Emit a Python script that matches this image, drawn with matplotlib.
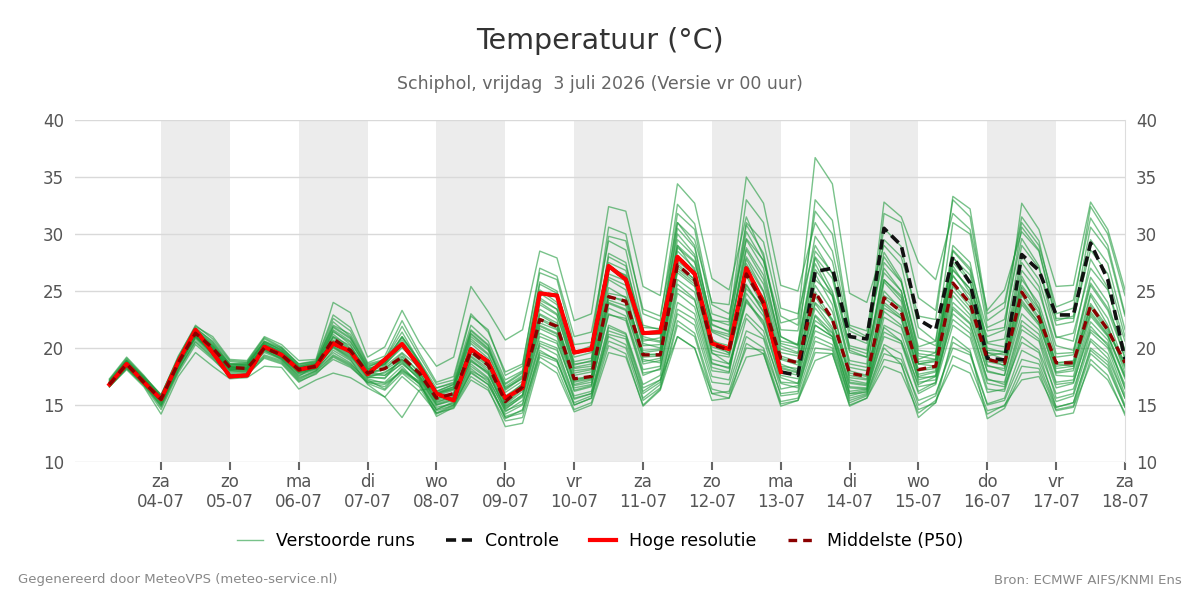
import numpy as np
import pandas as pd
import matplotlib
matplotlib.use('Agg')
import matplotlib.pyplot as plt
from matplotlib.lines import Line2D

plt.rcParams['font.family'] = ['DejaVu Sans']

# 6-hourly forecast times, run of vr 03-07-2026 00 uur
times = pd.date_range('2026-07-03 06:00', periods=60, freq='6h')
days = pd.date_range('2026-07-04', '2026-07-18', freq='D')
day_names = ['ma', 'di', 'wo', 'do', 'vr', 'za', 'zo']

# Hoge resolutie (HRES) - stops after 10 days
hres = [16.8, 18.6, 17.0, 15.5, 18.8, 21.6, 19.6, 17.5, 17.6, 20.1, 19.4, 18.1,
        18.4, 20.4, 19.7, 17.7, 19.0, 20.35, 18.4, 16.0, 15.4, 19.9, 18.8, 15.6,
        16.5, 24.8, 24.6, 19.6, 19.9, 27.2, 26.0, 21.3, 21.4, 28.0, 26.5, 20.4,
        19.9, 27.0, 24.0, 17.9]

# Controle run (hidden under HRES for the first 10 days)
control = hres + [17.6, 26.7, 27.0, 21.0, 20.8, 30.5, 29.0, 22.5, 21.6, 28.0,
                  25.7, 19.1, 18.95, 28.2, 26.8, 22.9, 22.9, 29.2, 26.0, 19.0]

# Middelste (P50)
p50 = [16.8, 18.6, 17.0, 15.5, 18.7, 21.3, 20.0, 18.3, 18.2, 20.0, 19.4, 18.1,
       18.4, 20.8, 19.8, 17.8, 18.2, 19.2, 17.8, 15.6, 16.0, 19.7, 18.5, 15.3,
       16.6, 22.5, 21.9, 17.3, 17.5, 24.5, 24.1, 19.4, 19.4, 27.3, 26.0, 20.3,
       19.8, 26.5, 23.9, 19.1, 18.7, 24.9, 22.5, 17.8, 17.5, 24.4, 23.2, 18.1,
       18.4, 25.7, 23.9, 19.0, 18.65, 24.9, 22.7, 18.7, 18.7, 23.7, 21.6, 18.7]

# Verstoorde runs (ensemble members)
members = [
    [16.9, 18.7, 17.2, 15.3, 18.5, 21.0, 19.6, 18.0, 18.3, 20.2, 19.5, 17.8, 18.2,
     21.5, 20.3, 17.6, 18.8, 20.5, 18.0, 15.2, 15.8, 20.4, 19.1, 15.0, 16.2,
     23.4, 22.5, 16.8, 17.2, 26.0, 25.1, 19.0, 18.7, 28.5, 27.0, 20.8, 19.5,
     27.8, 25.0, 18.6, 18.0, 26.5, 23.8, 17.2, 16.9, 25.8, 24.1, 17.5, 17.9,
     27.2, 24.8, 18.5, 18.0, 26.3, 23.5, 17.9, 18.2, 24.6, 22.0, 17.8],
    [16.7, 18.4, 16.9, 15.6, 18.9, 21.5, 20.1, 18.4, 18.1, 19.7, 19.1, 17.5, 18.5,
     20.1, 19.2, 17.9, 17.6, 18.6, 17.4, 15.0, 15.5, 18.8, 17.9, 14.6, 15.8,
     21.0, 20.4, 16.5, 16.8, 22.9, 22.6, 17.8, 18.1, 25.6, 24.3, 18.7, 18.2,
     24.2, 22.0, 17.4, 16.9, 22.4, 21.3, 16.5, 16.4, 21.8, 20.6, 16.2, 17.0,
     23.4, 22.1, 17.3, 16.8, 22.0, 20.8, 16.5, 16.9, 21.9, 20.2, 16.8],
    [17.0, 18.9, 17.4, 15.8, 19.0, 21.8, 20.5, 18.6, 18.5, 20.6, 19.8, 18.3, 18.6,
     22.3, 21.0, 18.3, 19.0, 21.4, 18.8, 16.2, 16.8, 21.5, 20.2, 16.3, 17.4,
     25.1, 24.0, 18.5, 18.9, 28.3, 27.5, 21.0, 20.6, 30.5, 28.8, 22.1, 21.4,
     30.8, 28.3, 21.0, 20.2, 33.0, 31.2, 22.0, 21.5, 30.5, 28.9, 21.8, 20.6,
     28.0, 25.9, 19.6, 19.0, 25.3, 23.1, 18.6, 18.4, 23.0, 21.1, 17.5],
    [16.6, 18.2, 16.7, 14.6, 17.8, 20.3, 19.0, 17.6, 17.7, 19.1, 18.6, 17.0, 17.8,
     19.0, 18.3, 17.0, 16.8, 17.9, 16.9, 14.3, 15.0, 18.0, 17.2, 13.8, 14.6,
     19.6, 19.0, 15.2, 15.8, 21.0, 20.3, 16.0, 17.0, 23.0, 22.0, 17.0, 16.8,
     21.5, 20.8, 15.8, 16.0, 20.6, 20.0, 15.6, 16.0, 20.3, 19.5, 15.0, 15.8,
     20.5, 19.6, 15.1, 15.6, 19.8, 19.0, 15.3, 15.8, 20.6, 19.1, 15.6],
    [17.2, 19.0, 17.5, 15.9, 19.2, 22.0, 20.8, 18.9, 18.8, 20.9, 20.1, 18.6, 18.9,
     22.9, 21.8, 18.7, 19.3, 22.4, 19.6, 17.0, 17.5, 23.0, 21.4, 17.9, 18.6,
     26.6, 26.0, 20.3, 20.5, 30.6, 30.0, 23.0, 22.4, 32.6, 30.9, 23.8, 23.0,
     29.5, 27.0, 20.2, 19.6, 27.4, 24.5, 18.3, 18.0, 27.5, 25.8, 20.1, 20.6,
     31.0, 30.0, 21.8, 22.5, 29.6, 27.2, 21.0, 20.6, 27.8, 25.3, 19.6],
    [16.8, 18.6, 17.0, 15.4, 18.6, 21.2, 19.8, 18.2, 18.2, 20.0, 19.3, 18.0, 18.4,
     20.6, 19.6, 17.7, 18.1, 19.0, 17.6, 15.5, 16.1, 19.5, 18.4, 15.2, 16.5,
     22.2, 21.6, 17.1, 17.4, 24.2, 23.7, 19.2, 19.3, 27.0, 25.8, 20.1, 19.6,
     26.3, 23.6, 19.0, 18.5, 24.5, 22.3, 17.6, 17.3, 24.0, 22.8, 18.0, 18.2,
     25.4, 23.6, 18.8, 18.5, 24.6, 22.5, 18.4, 18.6, 23.5, 21.4, 18.5],
    [16.9, 18.5, 17.1, 15.2, 18.3, 21.4, 19.9, 18.1, 18.0, 20.3, 19.6, 17.9, 18.3,
     20.0, 19.0, 16.8, 15.7, 13.9, 16.3, 16.5, 16.9, 19.8, 18.6, 15.6, 16.9,
     23.0, 22.2, 17.8, 18.1, 25.3, 24.4, 19.8, 19.9, 28.0, 26.7, 21.4, 20.7,
     29.6, 27.7, 22.2, 22.6, 36.7, 34.4, 24.8, 24.0, 29.0, 27.3, 20.9, 20.2,
     26.3, 24.6, 19.3, 19.6, 26.8, 24.9, 20.2, 19.8, 25.7, 23.5, 19.9],
    [17.1, 18.8, 17.3, 15.5, 18.8, 21.6, 20.3, 18.5, 18.6, 20.5, 19.9, 18.4, 18.7,
     21.2, 20.0, 18.1, 18.6, 20.0, 18.6, 16.0, 16.4, 20.8, 19.5, 16.4, 17.5,
     24.4, 23.4, 18.3, 18.6, 27.0, 26.4, 20.6, 20.9, 31.0, 29.5, 24.0, 23.8,
     35.0, 32.7, 25.5, 25.0, 31.0, 28.5, 21.5, 20.8, 28.4, 26.0, 19.5, 19.3,
     27.9, 26.4, 20.4, 20.1, 28.1, 26.0, 20.9, 21.3, 27.0, 25.1, 20.6],
    [16.7, 18.3, 16.8, 14.9, 18.0, 20.8, 19.3, 17.8, 17.9, 19.4, 18.9, 17.3, 18.0,
     19.4, 18.6, 17.2, 16.4, 18.2, 17.0, 14.0, 14.8, 17.5, 16.5, 13.1, 13.4,
     18.8, 17.8, 14.4, 15.0, 19.6, 19.2, 15.0, 16.4, 22.0, 21.0, 16.0, 15.6,
     20.4, 19.5, 15.1, 15.4, 19.6, 19.5, 15.0, 15.6, 19.0, 18.6, 14.6, 15.2,
     19.3, 18.6, 14.5, 14.9, 18.4, 18.2, 14.6, 14.9, 19.5, 18.2, 14.8],
    [16.8, 18.7, 17.2, 15.7, 18.9, 21.1, 19.7, 18.3, 18.4, 20.1, 19.2, 18.1, 18.5,
     21.0, 19.9, 18.0, 18.4, 19.6, 18.3, 15.8, 16.3, 20.0, 18.9, 15.8, 16.8,
     22.9, 22.0, 17.6, 17.9, 24.8, 24.5, 19.6, 19.8, 27.6, 26.4, 20.6, 20.2,
     27.4, 24.9, 19.6, 19.3, 26.0, 24.6, 18.9, 18.6, 31.8, 31.0, 24.4, 23.3,
     33.0, 31.5, 22.4, 23.5, 31.5, 29.4, 23.0, 23.5, 32.4, 30.0, 24.6],
    [16.9, 18.6, 17.1, 15.6, 18.7, 21.3, 20.0, 18.3, 18.3, 20.1, 19.4, 18.2, 18.6,
     20.3, 19.4, 17.4, 17.9, 18.8, 17.2, 14.8, 15.1, 18.2, 17.0, 14.0, 14.5,
     19.8, 18.9, 15.0, 15.6, 21.5, 21.0, 16.2, 17.2, 24.0, 23.0, 18.0, 17.8,
     24.8, 22.8, 18.2, 17.8, 23.5, 21.6, 16.6, 16.5, 24.6, 23.6, 18.6, 18.4,
     26.4, 24.2, 19.2, 18.4, 24.0, 22.2, 17.6, 17.5, 22.8, 21.0, 17.3],
    [17.3, 19.2, 17.6, 15.8, 19.3, 21.9, 21.0, 19.0, 18.9, 21.0, 20.3, 18.9, 19.0,
     24.0, 23.1, 19.2, 20.1, 23.3, 20.5, 18.4, 19.2, 25.4, 23.2, 20.7, 21.6,
     28.5, 27.9, 22.4, 23.0, 32.4, 32.0, 25.4, 24.6, 34.4, 32.7, 26.1, 25.1,
     31.5, 28.0, 21.0, 20.3, 27.9, 25.0, 19.6, 19.2, 26.6, 25.0, 19.0, 19.6,
     29.0, 27.5, 20.5, 20.8, 29.0, 27.0, 22.0, 22.3, 29.5, 27.4, 21.6],
    [16.6, 18.4, 16.9, 15.1, 18.4, 20.9, 19.5, 18.0, 17.9, 19.8, 19.0, 17.6, 18.1,
     20.2, 19.3, 17.5, 17.3, 19.2, 17.5, 15.3, 15.7, 19.2, 18.0, 14.9, 15.9,
     21.7, 21.0, 16.2, 16.6, 23.5, 22.8, 18.1, 18.4, 26.0, 24.9, 19.0, 18.6,
     23.0, 21.5, 16.4, 16.7, 21.5, 20.8, 15.4, 15.9, 20.0, 18.6, 13.9, 15.2,
     21.0, 19.8, 13.8, 14.7, 17.8, 17.9, 14.0, 14.3, 19.0, 17.6, 14.1],
    [17.0, 18.8, 17.3, 15.6, 18.8, 21.4, 20.0, 18.4, 18.4, 20.3, 19.7, 18.3, 18.5,
     21.8, 20.8, 18.2, 18.5, 20.2, 18.2, 15.9, 16.4, 21.0, 19.8, 16.6, 17.6,
     24.0, 23.0, 18.0, 18.2, 26.5, 25.9, 20.4, 20.0, 29.0, 27.6, 21.5, 21.0,
     28.6, 26.0, 20.4, 20.0, 28.0, 26.1, 19.8, 19.2, 27.0, 25.0, 19.3, 19.0,
     28.5, 26.8, 20.0, 19.6, 27.5, 25.4, 19.5, 19.6, 26.2, 24.0, 19.0],
    [16.7, 18.5, 17.0, 15.3, 18.6, 21.0, 19.4, 17.9, 18.0, 19.9, 19.2, 17.7, 18.2,
     19.6, 18.7, 17.1, 17.0, 18.4, 16.8, 14.6, 15.2, 18.6, 17.4, 14.4, 15.4,
     20.6, 20.0, 15.8, 16.2, 22.0, 21.3, 16.8, 17.6, 24.8, 23.6, 18.3, 17.9,
     25.5, 23.1, 18.0, 17.6, 22.8, 21.0, 16.0, 16.1, 22.7, 21.8, 17.2, 17.6,
     24.0, 22.6, 17.9, 17.6, 23.0, 21.6, 17.0, 17.2, 22.3, 20.7, 16.5],
    [16.9, 18.6, 17.2, 15.5, 18.7, 21.2, 19.8, 18.2, 18.2, 20.0, 19.5, 18.0, 18.4,
     20.9, 19.8, 17.8, 18.2, 19.5, 17.8, 15.6, 16.0, 19.9, 18.7, 15.5, 16.6,
     22.5, 21.7, 17.2, 17.5, 24.6, 24.0, 19.4, 19.5, 27.4, 26.0, 20.4, 19.9,
     26.8, 24.4, 19.3, 18.8, 25.5, 23.2, 18.0, 17.6, 25.0, 23.4, 18.6, 18.8,
     26.8, 25.2, 21.0, 21.6, 32.7, 30.4, 25.4, 25.5, 32.8, 30.4, 25.1],
    [16.8, 18.4, 16.9, 15.0, 18.2, 21.0, 19.6, 18.1, 18.1, 19.6, 19.0, 17.4, 18.0,
     19.8, 18.9, 17.3, 16.9, 18.0, 17.1, 14.5, 15.0, 17.8, 16.8, 14.2, 15.0,
     20.2, 19.4, 15.5, 16.0, 21.2, 20.8, 15.6, 16.8, 23.4, 22.5, 17.5, 17.2,
     22.6, 21.0, 16.9, 16.5, 21.0, 20.3, 15.8, 16.2, 21.4, 20.6, 16.8, 17.5,
     22.5, 21.3, 16.4, 16.2, 21.0, 19.8, 16.0, 16.4, 20.8, 19.5, 15.6],
    [17.1, 18.9, 17.4, 15.7, 19.0, 21.5, 20.2, 18.6, 18.7, 20.6, 20.0, 18.5, 18.8,
     22.0, 21.2, 18.5, 18.9, 21.0, 18.9, 16.5, 17.0, 22.0, 20.6, 17.2, 18.0,
     25.6, 24.8, 19.2, 19.6, 28.0, 27.2, 21.8, 21.7, 30.0, 28.2, 22.5, 22.0,
     30.2, 27.6, 21.6, 21.5, 29.8, 27.6, 21.0, 20.4, 32.8, 31.5, 27.5, 26.0,
     31.8, 30.4, 23.3, 25.1, 30.2, 28.5, 22.4, 22.8, 30.6, 28.6, 22.8],
    [16.8, 18.5, 17.0, 15.4, 18.5, 21.1, 19.7, 18.2, 18.2, 19.9, 19.3, 17.9, 18.3,
     20.4, 19.5, 17.6, 17.8, 18.9, 17.5, 15.1, 15.6, 19.0, 17.8, 14.8, 15.9,
     21.9, 21.2, 16.7, 17.0, 23.9, 23.3, 18.6, 18.9, 26.6, 25.4, 19.5, 19.2,
     25.6, 23.2, 18.3, 17.9, 23.9, 21.8, 17.0, 16.8, 23.2, 22.0, 17.4, 17.5,
     24.6, 22.9, 18.0, 17.6, 23.8, 22.0, 17.8, 18.0, 23.2, 21.2, 17.5],
    [16.6, 18.1, 16.6, 14.2, 17.5, 19.6, 18.4, 17.3, 17.4, 18.4, 18.3, 16.4, 17.2,
     17.8, 17.4, 16.5, 15.7, 17.5, 16.2, 14.3, 14.7, 17.2, 16.3, 13.6, 13.9,
     19.2, 18.3, 14.6, 15.2, 20.2, 19.5, 14.9, 16.3, 21.0, 20.0, 15.4, 15.6,
     19.2, 19.5, 14.9, 15.4, 18.9, 19.5, 14.9, 15.6, 18.4, 17.8, 14.3, 15.4,
     18.5, 17.8, 14.2, 15.0, 17.2, 17.5, 14.5, 14.8, 18.6, 17.2, 14.3],
    [17.0, 18.7, 17.2, 15.6, 18.8, 21.3, 19.9, 18.3, 18.3, 20.2, 19.5, 18.1, 18.4,
     21.0, 20.2, 18.0, 18.6, 20.7, 18.5, 16.1, 16.6, 21.2, 19.9, 16.8, 17.8,
     24.8, 23.8, 18.8, 19.1, 27.5, 26.8, 21.3, 21.2, 31.8, 30.4, 23.0, 22.5,
     31.0, 29.3, 22.8, 22.0, 32.0, 30.0, 21.8, 21.0, 28.0, 25.8, 19.8, 19.6,
     26.9, 25.2, 19.6, 19.4, 25.5, 23.4, 18.7, 18.9, 24.8, 22.6, 18.4],
    [16.8, 18.6, 17.1, 15.4, 18.7, 21.3, 19.9, 18.3, 18.2, 20.0, 19.4, 18.1, 18.4,
     20.7, 19.7, 17.8, 18.2, 19.3, 17.9, 15.6, 16.0, 19.7, 18.5, 15.4, 16.6,
     22.6, 21.9, 17.3, 17.5, 24.5, 24.2, 19.4, 19.4, 27.2, 26.0, 20.3, 19.8,
     26.5, 23.9, 19.1, 18.7, 24.9, 22.5, 17.8, 17.5, 24.4, 23.2, 18.1, 18.4,
     25.7, 23.9, 19.0, 18.7, 24.9, 22.7, 18.7, 18.7, 23.7, 21.6, 18.7],
    [17.2, 19.1, 17.5, 15.9, 19.1, 21.7, 20.6, 18.8, 18.7, 20.8, 20.0, 18.6, 18.8,
     22.6, 21.5, 18.6, 19.0, 21.9, 19.3, 16.8, 17.2, 22.8, 21.6, 17.6, 18.4,
     27.0, 26.3, 21.0, 21.4, 29.4, 28.6, 22.0, 21.6, 29.0, 26.8, 19.6, 18.6,
     24.3, 22.2, 17.0, 16.9, 22.0, 21.0, 16.2, 16.4, 23.5, 22.6, 17.0, 17.2,
     23.6, 22.2, 17.2, 17.0, 22.4, 21.2, 16.8, 17.0, 21.6, 20.4, 16.4],
    [16.7, 18.3, 16.8, 15.0, 18.1, 20.6, 19.2, 17.7, 17.8, 19.3, 18.8, 17.2, 17.9,
     19.3, 18.5, 17.0, 16.6, 18.1, 16.9, 14.6, 15.3, 18.4, 17.3, 14.5, 15.1,
     20.4, 19.8, 15.6, 16.0, 21.8, 21.2, 16.5, 17.2, 21.0, 20.0, 16.0, 16.2,
     21.0, 20.0, 16.0, 16.2, 22.0, 21.0, 16.0, 16.3, 21.0, 20.4, 16.0, 16.8,
     22.0, 20.9, 16.1, 16.4, 21.6, 20.6, 15.6, 16.0, 21.4, 20.0, 15.9],
    [16.9, 18.8, 17.2, 15.5, 18.8, 21.4, 20.1, 18.4, 18.5, 20.4, 19.6, 18.2, 18.6,
     21.4, 20.5, 18.2, 18.7, 20.9, 18.7, 16.0, 16.6, 21.3, 20.0, 16.5, 17.3,
     24.2, 23.4, 18.6, 18.8, 27.2, 26.3, 20.8, 20.5, 29.5, 28.0, 21.6, 21.2,
     28.8, 26.4, 20.6, 20.3, 28.5, 26.6, 20.2, 19.8, 29.5, 28.0, 22.8, 22.5,
     33.3, 32.2, 23.0, 24.0, 31.0, 29.0, 23.6, 24.2, 31.4, 29.0, 23.0],
    [16.8, 18.5, 17.0, 15.2, 18.4, 21.0, 19.6, 18.1, 18.1, 19.8, 19.1, 17.8, 18.2,
     20.5, 19.6, 17.6, 17.6, 19.0, 17.6, 15.4, 15.9, 19.3, 18.2, 15.1, 16.4,
     22.0, 21.3, 17.0, 17.3, 24.0, 23.4, 18.8, 19.1, 26.8, 25.6, 19.8, 19.4,
     25.2, 23.6, 18.4, 18.2, 24.0, 22.5, 17.4, 17.2, 23.8, 22.6, 17.7, 18.0,
     25.0, 23.3, 18.4, 18.2, 24.2, 22.2, 18.2, 18.4, 23.9, 21.8, 18.2],
    [17.0, 18.7, 17.3, 15.6, 18.9, 21.5, 20.2, 18.5, 18.5, 20.4, 19.7, 18.3, 18.6,
     21.6, 20.6, 18.1, 18.6, 20.3, 18.4, 16.0, 16.5, 20.6, 19.4, 16.1, 17.1,
     23.8, 22.9, 18.2, 18.4, 26.2, 25.5, 20.2, 20.3, 28.8, 27.5, 22.4, 22.3,
     33.0, 31.0, 23.5, 23.0, 29.0, 26.5, 20.0, 19.5, 26.0, 24.4, 18.8, 19.0,
     28.6, 27.0, 21.5, 21.8, 30.6, 28.6, 22.6, 22.6, 28.6, 26.5, 21.0],
    [16.7, 18.5, 17.0, 15.3, 18.5, 21.1, 19.7, 18.1, 18.1, 19.9, 19.2, 17.9, 18.3,
     20.1, 19.1, 17.4, 17.4, 18.7, 17.3, 15.0, 15.4, 18.9, 17.7, 14.7, 15.7,
     21.3, 20.6, 16.3, 16.7, 23.0, 22.4, 17.6, 18.2, 25.2, 24.2, 18.6, 18.3,
     24.0, 22.4, 17.6, 17.3, 22.9, 21.4, 16.9, 16.7, 22.0, 21.2, 16.6, 16.9,
     23.0, 21.7, 16.9, 16.6, 20.5, 19.6, 14.8, 15.2, 20.0, 18.8, 15.0],
    [17.0, 18.9, 17.3, 15.7, 18.9, 21.6, 20.4, 18.6, 18.6, 20.5, 19.8, 18.4, 18.7,
     21.9, 20.9, 18.4, 18.8, 21.0, 18.8, 16.2, 16.8, 21.6, 20.3, 16.9, 17.9,
     25.8, 25.0, 19.6, 20.2, 29.8, 29.4, 23.4, 22.8, 31.0, 29.0, 22.0, 21.5,
     28.0, 25.6, 19.9, 19.5, 26.9, 24.8, 18.6, 18.3, 26.0, 24.6, 18.6, 18.9,
     27.5, 25.8, 19.8, 19.7, 26.0, 23.9, 19.2, 19.4, 25.5, 23.3, 19.2],
    [16.6, 18.2, 16.8, 14.8, 18.0, 20.5, 19.1, 17.5, 17.6, 19.2, 18.7, 17.1, 17.7,
     19.2, 18.4, 16.9, 16.3, 17.8, 16.6, 14.2, 14.9, 17.9, 16.8, 13.9, 14.3,
     19.4, 18.8, 15.0, 15.6, 20.6, 20.0, 15.4, 16.5, 22.4, 21.3, 16.4, 16.0,
     20.0, 19.8, 15.3, 15.6, 20.0, 19.8, 15.2, 15.8, 19.5, 19.0, 15.4, 16.0,
     20.0, 19.4, 15.0, 15.4, 19.0, 18.6, 14.8, 15.2, 19.8, 18.5, 14.8],
]

fig, ax = plt.subplots(figsize=(12, 6), dpi=100)
fig.subplots_adjust(left=0.0625, right=0.9375, top=0.8, bottom=0.23)

# alternating shaded days
for k in range(0, len(days) - 1, 2):
    ax.axvspan(days[k], days[k + 1], color='#ececec', lw=0, zorder=0)

for m in members:
    ax.plot(times, m, color='#1f9a3c', lw=1.0, alpha=0.6, zorder=2)

ax.plot(times, control, color='#111111', lw=2.6, dashes=(2.8, 1.6), zorder=3)
ax.plot(times[:len(hres)], hres, color='#ff0000', lw=3, zorder=4)
ax.plot(times, p50, color='#8b0000', lw=2.4, dashes=(2.6, 1.8), zorder=5)

ax.set_xlim(pd.Timestamp('2026-07-02 18:00'), pd.Timestamp('2026-07-18 00:00'))
ax.set_ylim(10, 40)
ax.set_yticks(range(10, 41, 5))
ax.yaxis.grid(True, color='#d9d9d9', lw=1)
ax.set_axisbelow(True)

ax.set_xticks(days)
ax.set_xticklabels([day_names[d.weekday()] + '\n' + d.strftime('%d-%m') for d in days],
                   linespacing=1.1)
ax.tick_params(axis='x', colors='#666666', length=6, width=1.5, labelsize=12, pad=2,
               labelcolor='#555555')
ax.tick_params(axis='y', length=0, labelsize=12, labelcolor='#555555', pad=8,
               labelright=True)

for s in ['top', 'left', 'bottom']:
    ax.spines[s].set_visible(False)
ax.spines['right'].set_color('#dddddd')

fig.text(0.5, 1 - 41 / 600, 'Temperatuur (°C)', ha='center', va='center',
         fontsize=20.5, color='#333333')
fig.text(0.5, 1 - 84 / 600, 'Schiphol, vrijdag  3 juli 2026 (Versie vr 00 uur)',
         ha='center', va='center', fontsize=12.5, color='#666666')

handles = [
    Line2D([], [], color='#1f9a3c', lw=1, alpha=0.6),
    Line2D([], [], color='#111111', lw=2.6, dashes=(2.8, 1.6)),
    Line2D([], [], color='#ff0000', lw=3),
    Line2D([], [], color='#8b0000', lw=2.4, dashes=(2.6, 1.8)),
]
labels = ['Verstoorde runs', 'Controle', 'Hoge resolutie', 'Middelste (P50)']
fig.legend(handles, labels, loc='center', bbox_to_anchor=(0.5, 1 - 541 / 600),
           ncol=4, frameon=False, fontsize=12.5, handlelength=1.5,
           handletextpad=0.75, columnspacing=1.8)

fig.text(18 / 1200, 1 - 580 / 600, 'Gegenereerd door MeteoVPS (meteo-service.nl)',
         ha='left', va='center', fontsize=9.5, color='#888888')
fig.text(1 - 18 / 1200, 1 - 580 / 600, 'Bron: ECMWF AIFS/KNMI Ens',
         ha='right', va='center', fontsize=9.5, color='#888888')

plt.savefig('out.png')
